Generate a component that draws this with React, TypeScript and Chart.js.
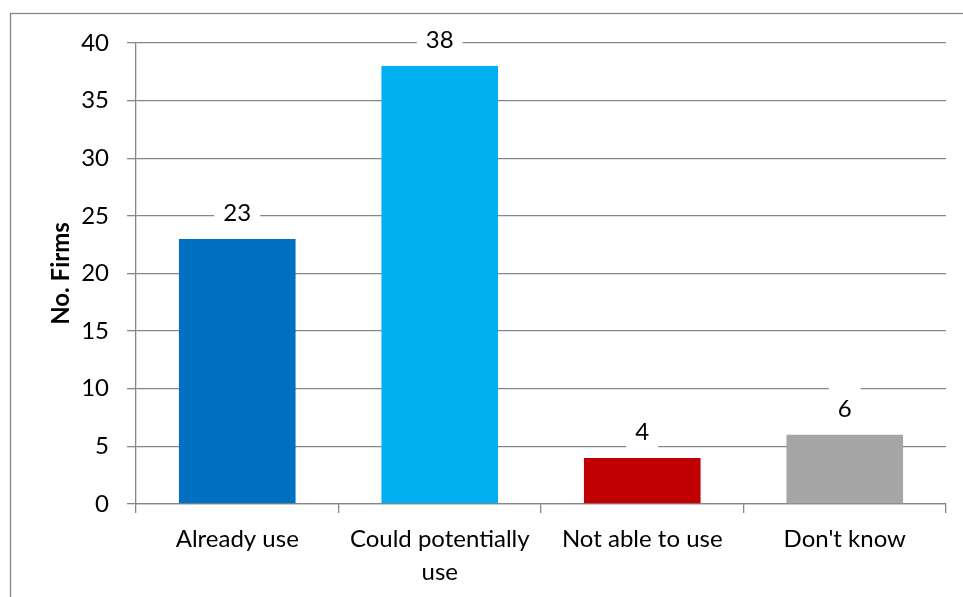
import React, { useEffect, useRef } from "react";
import { Chart, registerables } from "chart.js";

Chart.register(...registerables);

// Survey answers and the number of firms giving each one
const categories: (string | string[])[] = [
  "Already use",
  ["Could potentially", "use"],
  "Not able to use",
  "Don't know",
];
const firmCounts: number[] = [23, 38, 4, 6];
const barColors: string[] = ["#0070C0", "#00B0F0", "#C00000", "#A6A6A6"];
const yTicks = { min: 0, max: 40, step: 5 };

const FONT = "Lato, 'Open Sans', sans-serif";
const FONT_SIZE = 24;
const AXIS_GRAY = "#868686";

// Outer frame of the chart
const framePlugin = {
  id: "frame",
  beforeDraw(chart: any) {
    const ctx = chart.ctx;
    ctx.save();
    ctx.fillStyle = "#ffffff";
    ctx.fillRect(0, 0, chart.width, chart.height);
    ctx.strokeStyle = AXIS_GRAY;
    ctx.lineWidth = 1.3;
    ctx.strokeRect(10.5, 13.5, chart.width + 20, chart.height + 20);
    ctx.restore();
  },
};

// Value labels above each bar on a white box
const valueLabelPlugin = {
  id: "valueLabels",
  afterDatasetsDraw(chart: any) {
    const ctx = chart.ctx;
    const meta = chart.getDatasetMeta(0);
    ctx.save();
    ctx.font = `${FONT_SIZE}px ${FONT}`;
    ctx.textAlign = "center";
    ctx.textBaseline = "middle";
    meta.data.forEach((bar: any, i: number) => {
      const text = String(firmCounts[i]);
      const x = bar.x;
      const y = bar.y - 26;
      const w = ctx.measureText(text).width + 18;
      ctx.fillStyle = "#ffffff";
      ctx.fillRect(x - w / 2, y - 22, w, 38);
      ctx.fillStyle = "#000000";
      ctx.fillText(text, x, y);
    });
    ctx.restore();
  },
};

export default function App() {
  const canvasRef = useRef<HTMLCanvasElement | null>(null);

  useEffect(() => {
    if (!canvasRef.current) return;
    const chart = new Chart(canvasRef.current, {
      type: "bar",
      data: {
        labels: categories,
        datasets: [
          {
            data: firmCounts,
            backgroundColor: barColors,
            borderWidth: 0,
            barPercentage: 0.576,
            categoryPercentage: 1,
          },
        ],
      },
      options: {
        responsive: false,
        animation: false,
        layout: { padding: { left: 10, top: 43, right: 17, bottom: 0 } },
        plugins: {
          legend: { display: false },
          tooltip: { enabled: false },
        },
        scales: {
          x: {
            afterFit(scale: any) {
              scale.height = 93;
            },
            grid: {
              display: true,
              drawOnChartArea: false,
              offset: true,
              color: AXIS_GRAY,
              lineWidth: 1.3,
              tickLength: 9,
            },
            border: { color: AXIS_GRAY, width: 1.3 },
            ticks: {
              color: "#000000",
              font: { family: FONT, size: FONT_SIZE, lineHeight: 1.375 },
              padding: 10,
              maxRotation: 0,
              autoSkip: false,
            },
          },
          y: {
            min: yTicks.min,
            max: yTicks.max,
            afterFit(scale: any) {
              scale.width = 126;
            },
            grid: {
              color: AXIS_GRAY,
              lineWidth: 1.3,
              tickLength: 9,
            },
            border: { color: AXIS_GRAY, width: 1.3 },
            ticks: {
              stepSize: yTicks.step,
              color: "#000000",
              font: { family: FONT, size: FONT_SIZE },
              padding: 18,
            },
            title: {
              display: true,
              text: "No. Firms",
              color: "#000000",
              font: { family: FONT, size: FONT_SIZE, weight: "bold" },
              padding: { top: 37, bottom: 0 },
            },
          },
        },
      },
      plugins: [framePlugin, valueLabelPlugin],
    });
    return () => chart.destroy();
  }, []);

  return (
    <div style={{ position: "fixed", left: 0, top: 0, width: 963, height: 597 }}>
      <canvas ref={canvasRef} width={963} height={597} />
    </div>
  );
}
